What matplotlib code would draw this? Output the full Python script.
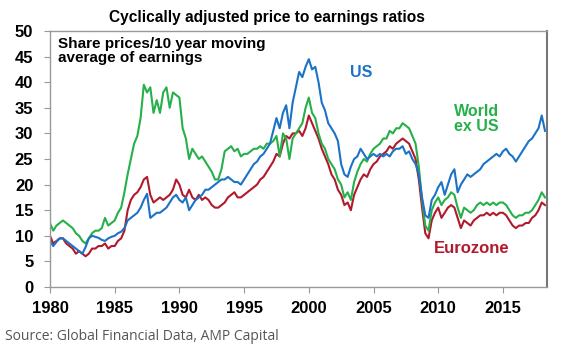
import numpy as np
import matplotlib
matplotlib.use('Agg')
import matplotlib.pyplot as plt

# quarterly readings, 1980 Q1 .. 2018 Q2
years = np.arange(1980, 2018.3, 0.25)

us_cape = [
    9.0, 8.0, 8.8, 9.5,  9.5, 9.0, 8.5, 8.0,  7.5, 7.0, 6.5, 7.8,
    9.5, 10.0, 9.8, 9.6,  9.2, 9.0, 9.5, 9.8,  10.0, 10.5, 10.8, 11.5,
    13.0, 13.5, 14.0, 14.5,  15.5, 17.0, 18.2, 13.5,  14.0, 14.5, 14.5, 15.0,
    15.5, 16.5, 17.5, 18.0,  17.0, 16.5, 17.5, 15.0,  16.0, 17.0, 17.5, 18.0,
    19.0, 19.0, 19.5, 20.0,  20.5, 21.0, 21.0, 21.5,  21.0, 20.5, 20.5, 20.0,
    21.0, 22.0, 23.0, 24.0,  24.5, 25.5, 26.0, 27.0,  28.0, 30.5, 33.0, 31.0,
    34.0, 35.5, 31.0, 36.0,  39.0, 42.0, 41.0, 43.0,  44.5, 42.5, 43.0, 40.0,
    36.0, 34.5, 32.0, 31.0,  30.0, 28.5, 24.0, 22.0,  21.5, 23.5, 25.0, 25.5,
    27.0, 26.0, 25.0, 25.5,  26.0, 25.5, 26.0, 25.5,  26.0, 25.5, 26.5, 27.0,
    27.0, 27.5, 26.0, 26.5,  25.0, 24.0, 22.0, 17.5,  14.0, 13.5, 17.0, 18.0,
    19.5, 20.5, 18.0, 20.0,  22.0, 23.0, 18.5, 20.0,  21.0, 22.0, 21.5, 22.0,
    22.5, 23.0, 24.0, 24.5,  25.0, 25.5, 26.0, 25.5,  26.5, 27.0, 26.0, 25.5,
    24.5, 25.5, 26.5, 27.5,  28.5, 29.0, 30.0, 31.0,  33.5, 30.5,
]

world_ex_us_cape = [
    12.5, 11.0, 12.0, 12.5,  13.0, 12.5, 12.0, 11.5,  10.5, 10.0, 9.0, 8.5,
    9.5, 10.5, 11.0, 11.0,  11.5, 13.5, 12.0, 12.5,  13.0, 14.5, 15.5, 18.5,
    22.0, 25.0, 28.0, 29.5,  33.0, 39.5, 38.0, 39.0,  34.0, 36.5, 34.0, 38.0,
    39.0, 35.0, 38.0, 37.5,  37.0, 31.0, 29.0, 25.0,  27.0, 26.0, 25.0, 25.5,
    24.5, 23.5, 22.5, 21.0,  21.0, 23.0, 26.5, 27.0,  27.5, 26.5, 27.0, 25.5,
    26.0, 26.0, 26.5, 27.0,  27.0, 27.5, 27.0, 28.0,  28.0, 28.5, 29.5, 25.5,
    30.0, 29.0, 25.0, 29.0,  30.0, 31.0, 32.0, 35.0,  37.0, 34.0, 33.0, 30.0,
    28.0, 27.0, 25.0, 24.0,  23.0, 21.0, 20.0, 17.5,  18.5, 17.0, 20.5, 22.5,
    24.0, 25.0, 24.5, 26.0,  27.0, 27.5, 28.0, 29.0,  29.0, 30.5, 30.0, 31.0,
    31.0, 32.0, 31.5, 31.0,  29.5, 28.0, 23.5, 17.0,  12.0, 11.0, 15.0, 16.5,
    17.5, 16.0, 17.0, 17.5,  18.5, 18.0, 15.5, 13.5,  15.5, 15.0, 14.5, 15.0,
    16.0, 16.5, 16.0, 16.5,  16.0, 16.5, 16.0, 16.5,  16.5, 16.0, 15.0, 14.0,
    13.5, 14.0, 14.0, 14.5,  14.5, 15.0, 16.0, 17.0,  18.5, 17.5,
]

eurozone_cape = [
    10.0, 8.5, 9.0, 9.5,  9.5, 8.5, 8.0, 7.5,  6.5, 7.0, 6.5, 6.0,
    6.5, 7.5, 7.5, 8.0,  8.0, 8.5, 7.5, 8.0,  8.0, 9.0, 9.5, 11.0,
    15.0, 17.0, 18.0, 18.5,  19.5, 21.0, 21.5, 18.0,  16.5, 17.0, 17.5, 17.0,
    17.5, 18.0, 19.0, 21.0,  20.0, 18.0, 17.5, 19.0,  17.5, 17.0, 18.0, 17.0,
    17.5, 17.0, 16.0, 15.5,  15.5, 16.0, 16.5, 17.5,  18.0, 18.5, 17.5, 17.5,
    18.0, 18.5, 19.0, 19.5,  20.0, 21.0, 21.5, 22.5,  23.5, 24.5, 26.0, 25.5,
    28.0, 29.5, 29.0, 30.0,  30.0, 30.5, 29.5, 31.0,  33.5, 32.0, 30.5, 29.0,
    27.0, 25.5, 24.0, 22.0,  21.0, 19.0, 18.0, 16.0,  16.5, 15.0, 18.0, 19.5,
    21.0, 22.0, 21.5, 23.0,  24.0, 24.5, 25.5, 26.0,  26.5, 27.5, 27.0, 28.0,
    28.5, 29.0, 28.5, 28.0,  26.5, 25.0, 21.0, 15.5,  10.5, 9.5, 13.0, 14.5,
    15.5, 13.5, 14.5, 15.5,  16.0, 15.5, 13.5, 11.5,  13.0, 12.5, 12.0, 13.0,
    13.5, 14.0, 14.0, 14.5,  14.0, 14.5, 14.0, 14.5,  14.5, 14.0, 13.0, 12.0,
    11.5, 12.0, 12.0, 12.5,  12.5, 13.5, 14.0, 15.0,  16.5, 16.0,
]

x_ticks = [1980, 1985, 1990, 1995, 2000, 2005, 2010, 2015]
y_ticks = [0, 5, 10, 15, 20, 25, 30, 35, 40, 45, 50]

blue = '#1b72c6'
green = '#25b04a'
red = '#b01a2c'

plt.rcParams['font.family'] = ['Liberation Sans', 'DejaVu Sans']

fig = plt.figure(figsize=(5.65, 3.59), dpi=100)
ax = fig.add_axes([0.0885, 0.2006, 0.8795, 0.713])

ax.plot(years, eurozone_cape, color=red, lw=1.5)
ax.plot(years, world_ex_us_cape, color=green, lw=1.5)
ax.plot(years, us_cape, color=blue, lw=1.5)

ax.set_xlim(1980, 2018.4)
ax.set_ylim(0, 50)
ax.set_xticks(x_ticks)
ax.set_yticks(y_ticks)
ax.tick_params(axis='both', labelsize=12, color='#999999', length=4, width=0.8)
ax.tick_params(axis='y', pad=8)
ax.tick_params(axis='x', pad=6)
for lab in ax.get_xticklabels() + ax.get_yticklabels():
    lab.set_fontweight('bold')
for side in ['left', 'bottom', 'top', 'right']:
    ax.spines[side].set_color('#999999')
    ax.spines[side].set_linewidth(1.0)
ax.spines['right'].set_color('#777777')
ax.spines['right'].set_linewidth(1.5)

fig.text(0.473, 0.950, 'Cyclically adjusted price to earnings ratios', ha='center', va='center',
         fontsize=11.2, fontweight='bold')
ax.text(1980.6, 48.9, 'Share prices/10 year moving\naverage of earnings', ha='left', va='top',
        fontsize=11, fontweight='bold', linespacing=1.05)
ax.text(2003.2, 41.8, 'US', color=blue, fontsize=11.5, fontweight='bold', ha='left', va='center')
ax.text(2011.2, 32.8, 'World\nex US', color=green, fontsize=11.5, fontweight='bold', ha='left',
        va='center', linespacing=1.05)
ax.text(2009.7, 7.5, 'Eurozone', color=red, fontsize=12, fontweight='bold', ha='left', va='center')

fig.text(0.009, 0.062, 'Source: Global Financial Data, AMP Capital', ha='left', va='center',
         fontsize=10, color='#555555', family=['Open Sans', 'DejaVu Sans'])

fig.savefig('out.png', dpi=100)
